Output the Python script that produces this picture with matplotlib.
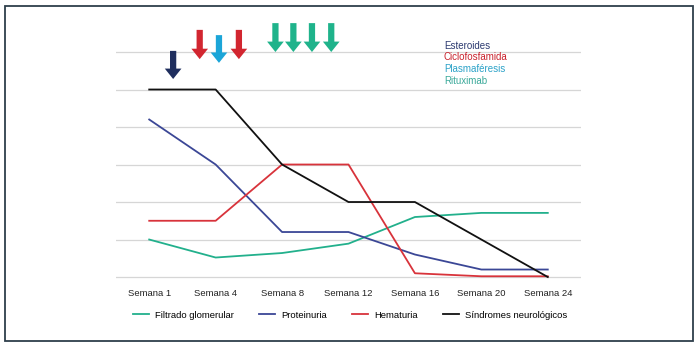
import matplotlib.pyplot as plt
from matplotlib.patches import Rectangle
import numpy as np

plt.rcParams['font.family'] = ['Liberation Sans', 'DejaVu Sans']

# Data
weeks = ['Semana 1', 'Semana 4', 'Semana 8', 'Semana 12', 'Semana 16', 'Semana 20', 'Semana 24']
filtrado = [1.0, 0.52, 0.64, 0.89, 1.6, 1.71, 1.71]
proteinuria = [4.2, 3.0, 1.2, 1.2, 0.6, 0.2, 0.2]
hematuria = [1.5, 1.5, 3.0, 3.0, 0.1, 0.02, 0.02]
sindromes = [5.0, 5.0, 3.0, 2.0, 2.0, 1.0, 0.0]

series_names = ['Filtrado glomerular', 'Proteinuria', 'Hematuria', 'Síndromes neurológicos']
series_colors = ['#22b08c', '#3b4796', '#d8333b', '#111111']

# Treatment arrows: x position (in week-category units), top, bottom, treatment
arrow_x = [0.36, 0.76, 1.05, 1.35, 1.90, 2.17, 2.45, 2.74]
arrow_top = [6.03, 6.59, 6.45, 6.59, 6.77, 6.77, 6.77, 6.77]
arrow_bottom = [5.28, 5.81, 5.71, 5.81, 6.0, 6.0, 6.0, 6.0]
arrow_kind = [0, 1, 2, 1, 3, 3, 3, 3]

treatments = ['Esteroides', 'Ciclofosfamida', 'Plasmaféresis', 'Rituximab']
treatment_colors = ['#1f2e5e', '#d22630', '#1ba5d8', '#1fb38b']
treatment_text_colors = ['#2c3a70', '#c9202b', '#2ba2c8', '#3aa99a']

fig = plt.figure(figsize=(7.0, 3.49), dpi=100)
fig.patch.set_facecolor('white')
fig.patches.append(Rectangle((5 / 700, 8 / 349), 688 / 700, 335 / 349,
                             transform=fig.transFigure, fill=False,
                             edgecolor='#2e3f4b', linewidth=1.3))

ax = fig.add_axes([116 / 700, 70.1 / 349, 465 / 700, 256.9 / 349])
x = np.arange(len(weeks))

for vals, name, col in zip([filtrado, proteinuria, hematuria, sindromes], series_names, series_colors):
    ax.plot(x, vals, color=col, linewidth=1.3, label=name, clip_on=False, zorder=3)

ax.set_xlim(-0.5, len(weeks) - 0.5)
ax.set_ylim(-0.05, 6.8)
ax.set_yticks(range(0, 7))
ax.yaxis.grid(True, color='#d6d6d6', linewidth=0.9)
ax.set_axisbelow(True)
ax.set_yticklabels([])
ax.tick_params(axis='y', length=0)
ax.set_xticks(x)
ax.set_xticklabels(weeks, fontsize=6.8, color='#222222')
ax.tick_params(axis='x', length=0, pad=7)
for s in ax.spines.values():
    s.set_visible(False)

for xa, yt, yb, k in zip(arrow_x, arrow_top, arrow_bottom, arrow_kind):
    ax.annotate('', xy=(xa, yb), xytext=(xa, yt), annotation_clip=False,
                arrowprops=dict(arrowstyle='simple,head_width=1.2,head_length=0.75,tail_width=0.45',
                                color=treatment_colors[k], mutation_scale=10,
                                shrinkA=0, shrinkB=0, linewidth=0))

for i, (t, c) in enumerate(zip(treatments, treatment_text_colors)):
    fig.text(444 / 700, 1 - (45.7 + 11.8 * i) / 349, t, color=c, fontsize=7, va='center', ha='left')

fig.legend(loc='center', bbox_to_anchor=(350 / 700, 1 - 315 / 349), ncol=4, frameon=False,
           fontsize=6.8, handlelength=1.7, handletextpad=0.6, columnspacing=2.7)

fig.savefig('out.png', dpi=100)
